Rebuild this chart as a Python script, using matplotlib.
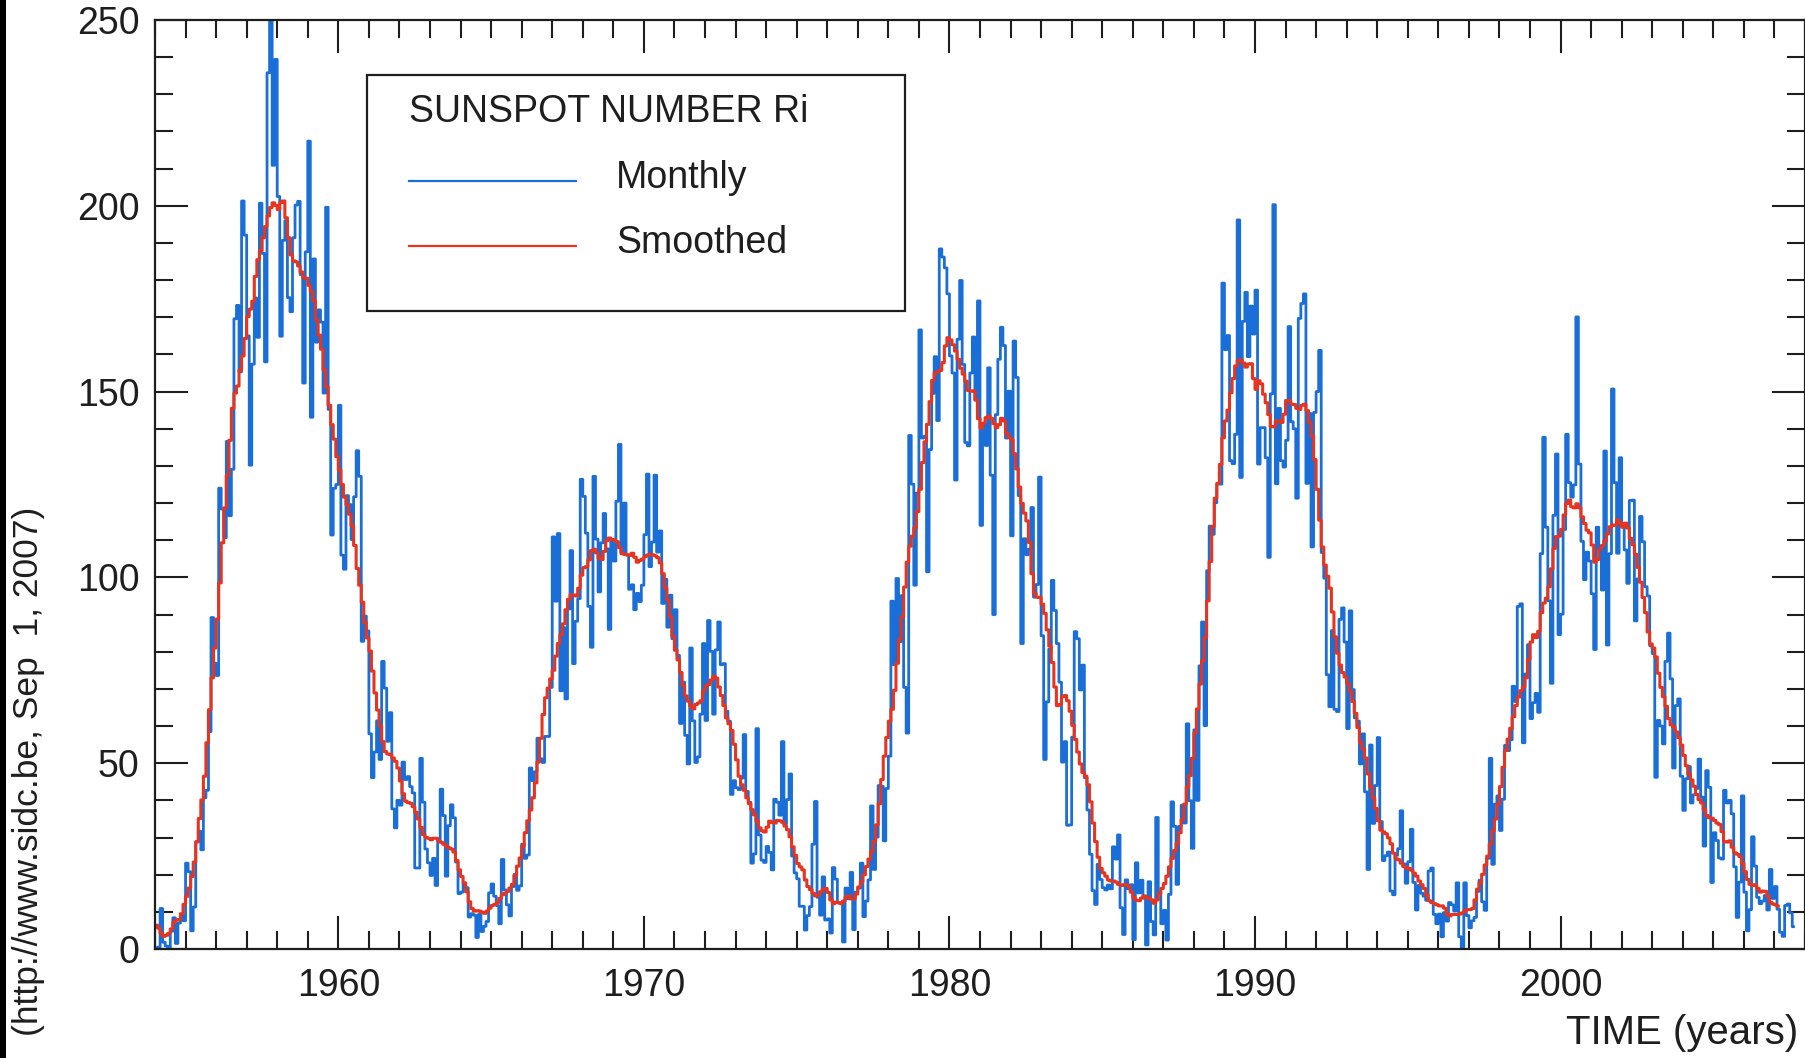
import matplotlib
matplotlib.use("Agg")
import matplotlib.pyplot as plt
from matplotlib.patches import Rectangle
from matplotlib.ticker import MultipleLocator
import numpy as np

# monthly mean sunspot number Ri, Jan 1954 .. Aug 2007 (one row per year)
start_year = 1954
monthly = [
    0.2, 0.5, 10.9, 1.8, 0.8, 0.2, 4.8, 8.4, 1.5, 7.0, 9.2, 7.6,
    23.1, 20.8, 4.9, 11.3, 28.9, 31.7, 26.7, 40.7, 42.7, 58.5, 89.2, 76.9,
    73.6, 124.0, 118.4, 110.7, 136.6, 116.6, 129.1, 169.6, 173.2, 155.3, 201.3, 192.1,
    165.0, 130.2, 157.4, 175.2, 164.6, 200.7, 187.2, 158.0, 235.8, 253.8, 210.9, 239.4,
    202.5, 164.9, 190.7, 196.0, 175.3, 171.5, 191.4, 200.2, 201.2, 181.5, 152.3, 187.6,
    217.4, 143.1, 185.7, 163.3, 172.0, 168.7, 149.6, 199.6, 145.2, 111.4, 124.0, 125.0,
    146.3, 106.0, 102.2, 122.0, 119.6, 110.2, 121.7, 134.1, 127.2, 82.8, 89.6, 85.6,
    57.9, 46.1, 53.0, 61.4, 51.0, 77.4, 70.2, 55.9, 63.6, 37.7, 32.6, 40.0,
    38.7, 50.3, 45.6, 46.4, 43.7, 42.0, 21.8, 21.8, 51.3, 39.5, 26.9, 23.2,
    19.8, 24.4, 17.1, 29.3, 43.0, 35.9, 19.6, 33.2, 38.8, 35.3, 23.4, 14.9,
    15.3, 17.7, 16.5, 8.6, 9.5, 9.1, 3.1, 9.3, 4.7, 6.1, 7.4, 15.1,
    17.5, 14.2, 11.7, 6.8, 24.1, 15.9, 11.9, 8.9, 16.8, 20.1, 15.8, 17.0,
    28.2, 24.4, 25.3, 48.7, 45.3, 47.7, 56.7, 51.2, 50.2, 57.2, 57.2, 70.4,
    110.9, 93.6, 111.8, 69.5, 86.5, 67.3, 91.5, 107.2, 76.8, 88.2, 94.3, 126.4,
    121.8, 111.9, 92.2, 81.2, 127.2, 110.3, 96.1, 109.3, 117.2, 107.7, 86.0, 109.8,
    104.4, 120.5, 135.8, 106.8, 120.0, 106.0, 96.8, 98.0, 91.3, 95.7, 93.5, 97.9,
    111.5, 127.8, 102.9, 109.5, 127.5, 106.8, 112.5, 93.0, 99.5, 86.6, 95.2, 83.5,
    91.3, 79.0, 60.7, 71.8, 57.5, 49.8, 81.0, 61.4, 50.2, 51.7, 63.2, 82.2,
    61.5, 88.4, 80.1, 63.2, 80.5, 88.0, 76.5, 76.8, 64.0, 61.3, 41.6, 45.3,
    43.4, 42.9, 46.0, 57.7, 42.4, 39.5, 23.1, 25.6, 59.3, 30.7, 23.9, 23.3,
    27.6, 26.0, 21.3, 40.3, 39.5, 36.0, 55.8, 33.6, 40.2, 47.1, 25.0, 20.5,
    18.9, 11.5, 11.5, 5.1, 9.0, 11.4, 28.2, 39.7, 13.9, 9.1, 19.4, 7.8,
    8.1, 4.3, 21.9, 18.8, 12.4, 12.2, 1.9, 16.4, 13.5, 20.6, 5.2, 15.3,
    16.4, 23.1, 8.7, 12.9, 18.6, 38.5, 21.4, 30.1, 44.0, 43.8, 29.1, 43.2,
    51.9, 93.6, 76.5, 99.7, 82.7, 95.1, 70.4, 58.1, 138.2, 125.1, 97.9, 122.7,
    166.6, 137.5, 138.0, 101.5, 134.4, 149.5, 159.4, 142.2, 188.4, 186.2, 183.3, 176.3,
    159.6, 155.0, 126.2, 164.1, 179.9, 157.3, 136.3, 135.4, 155.0, 164.7, 147.9, 174.4,
    114.0, 141.3, 135.5, 156.4, 127.5, 90.0, 143.8, 158.7, 167.3, 162.4, 137.5, 150.1,
    111.2, 163.6, 153.8, 122.0, 82.2, 110.4, 106.1, 107.6, 118.8, 94.7, 98.1, 127.0,
    84.3, 51.0, 66.5, 80.7, 99.2, 91.1, 82.2, 71.8, 50.3, 55.8, 33.3, 33.4,
    57.0, 85.4, 83.5, 69.7, 76.4, 46.1, 37.4, 25.5, 15.7, 12.0, 22.8, 18.7,
    16.5, 15.9, 17.2, 16.2, 27.5, 24.2, 30.7, 11.1, 3.9, 18.6, 16.2, 17.3,
    2.5, 23.2, 15.1, 18.5, 13.7, 1.1, 18.1, 7.4, 3.8, 35.4, 15.2, 6.8,
    10.4, 2.4, 14.7, 39.6, 33.0, 17.4, 33.0, 38.7, 33.9, 60.6, 39.9, 27.1,
    59.0, 40.0, 76.2, 88.0, 60.1, 101.8, 113.8, 111.6, 120.1, 125.1, 125.1, 179.2,
    161.3, 165.1, 131.4, 130.6, 138.5, 196.2, 126.9, 168.9, 176.7, 159.4, 173.0, 165.5,
    177.3, 130.5, 140.3, 140.3, 132.2, 105.4, 149.4, 200.3, 125.2, 145.5, 131.4, 129.7,
    136.9, 167.5, 141.9, 140.0, 121.3, 169.7, 173.7, 176.3, 125.3, 144.1, 108.2, 144.4,
    150.0, 161.1, 106.7, 99.8, 73.8, 65.2, 85.7, 64.5, 63.9, 88.7, 91.8, 82.6,
    59.3, 91.0, 69.8, 62.2, 61.3, 49.8, 57.9, 42.3, 21.4, 54.9, 33.8, 44.0,
    56.9, 34.3, 23.8, 25.1, 26.1, 15.6, 14.6, 25.2, 27.0, 37.2, 22.9, 17.7,
    23.5, 32.2, 17.9, 10.5, 17.1, 15.0, 14.2, 13.1, 21.0, 21.8, 9.3, 6.8,
    9.4, 3.3, 9.8, 7.5, 12.5, 11.9, 10.2, 17.8, 3.3, 0.4, 17.8, 9.0,
    5.7, 7.6, 8.5, 15.5, 18.5, 12.7, 10.4, 24.4, 51.3, 22.8, 39.0, 41.2,
    31.9, 40.3, 54.8, 53.4, 56.3, 70.7, 66.6, 92.2, 92.9, 55.5, 74.0, 81.9,
    62.0, 66.3, 68.8, 63.7, 106.4, 137.7, 113.5, 93.7, 71.5, 116.7, 133.2, 84.6,
    90.1, 112.9, 138.5, 125.5, 121.6, 124.9, 170.1, 130.5, 109.7, 99.4, 106.8, 104.4,
    95.6, 80.6, 113.5, 107.7, 96.6, 134.0, 81.8, 106.4, 150.7, 125.5, 106.5, 132.2,
    114.1, 107.4, 98.4, 120.7, 120.8, 88.3, 99.6, 116.4, 109.6, 97.5, 95.0, 81.6,
    79.5, 46.2, 61.5, 60.0, 55.2, 77.4, 85.0, 72.7, 48.7, 65.5, 67.3, 46.5,
    37.3, 45.8, 49.1, 39.3, 41.5, 43.2, 51.1, 40.9, 27.7, 48.0, 43.5, 17.9,
    31.3, 29.2, 24.5, 24.2, 42.7, 39.3, 40.0, 36.4, 22.1, 8.5, 18.0, 41.2,
    15.3, 4.9, 10.6, 30.2, 22.3, 13.9, 12.2, 12.9, 14.4, 10.5, 21.4, 13.6,
    16.8, 10.7, 4.5, 3.4, 11.7, 12.1, 9.7, 6.0,
]

# 13-month smoothed sunspot number, Jan 1954 .. Feb 2007
smoothed = [
    6.4, 5.6, 4.2, 3.4, 3.7, 4.2, 5.4, 7.2, 7.8, 7.9, 9.5, 12.0,
    14.2, 16.4, 19.5, 23.4, 28.8, 35.1, 40.1, 46.5, 55.5, 64.4, 73.0, 81.0,
    88.8, 98.5, 109.3, 118.7, 127.4, 136.9, 145.5, 149.6, 151.5, 155.8, 159.6, 164.3,
    170.2, 172.2, 174.3, 181.0, 185.5, 187.9, 191.4, 194.4, 197.3, 199.5, 200.8, 200.1,
    199.0, 200.9, 201.3, 196.8, 191.4, 186.8, 185.2, 184.9, 183.8, 182.2, 180.7, 180.5,
    178.6, 176.9, 174.5, 169.3, 165.2, 161.4, 155.8, 151.3, 146.3, 141.1, 137.2, 132.5,
    128.9, 125.0, 121.6, 119.6, 117.0, 113.9, 108.6, 102.4, 97.9, 93.3, 87.9, 83.7,
    80.2, 74.8, 68.9, 64.3, 60.1, 55.8, 53.1, 52.5, 52.3, 51.4, 50.5, 48.7,
    45.2, 41.8, 39.8, 39.4, 39.2, 38.3, 36.8, 35.0, 32.7, 30.8, 30.0, 29.8,
    29.4, 29.8, 29.8, 29.1, 28.7, 28.2, 27.7, 27.2, 26.9, 26.1, 23.8, 21.3,
    19.5, 17.8, 15.4, 12.7, 10.9, 10.2, 10.3, 10.2, 9.9, 9.6, 10.2, 11.0,
    11.7, 12.0, 12.5, 13.6, 14.6, 15.0, 15.5, 16.4, 17.4, 19.7, 22.3, 24.5,
    27.7, 31.3, 34.5, 37.4, 40.7, 44.7, 50.3, 56.7, 63.1, 67.6, 70.2, 72.7,
    75.0, 78.8, 82.2, 84.6, 87.5, 91.3, 94.1, 95.3, 95.3, 95.0, 97.1, 100.6,
    102.6, 102.9, 104.7, 107.2, 107.6, 106.6, 105.2, 104.8, 107.0, 109.9, 110.6, 110.2,
    110.0, 109.6, 108.0, 106.4, 106.2, 106.1, 105.9, 106.5, 105.4, 104.1, 104.6, 104.9,
    105.6, 106.0, 106.2, 106.1, 105.8, 105.3, 103.9, 101.0, 97.2, 93.9, 89.4, 84.1,
    80.4, 77.8, 74.4, 70.9, 68.1, 66.7, 65.4, 64.6, 65.8, 66.2, 66.8, 69.4,
    70.8, 71.2, 72.4, 73.4, 72.9, 70.5, 68.2, 65.5, 62.2, 60.6, 58.8, 55.1,
    50.9, 46.5, 44.2, 42.7, 40.7, 39.1, 37.5, 36.1, 34.4, 32.6, 31.8, 31.5,
    32.8, 34.4, 34.0, 33.9, 34.6, 34.5, 34.1, 33.1, 32.1, 30.2, 27.5, 25.2,
    23.0, 22.1, 21.3, 18.6, 16.8, 16.0, 15.0, 14.3, 14.4, 15.4, 16.1, 16.3,
    15.2, 13.2, 12.2, 12.6, 12.5, 12.2, 12.9, 14.0, 14.3, 13.5, 13.5, 14.8,
    16.7, 18.1, 20.0, 22.2, 24.2, 26.3, 29.0, 33.4, 39.1, 45.6, 51.9, 56.9,
    61.3, 64.5, 69.6, 76.9, 83.2, 89.4, 97.4, 104.1, 108.4, 111.1, 113.3, 117.7,
    123.7, 130.9, 136.5, 141.2, 147.3, 153.0, 155.0, 155.4, 155.7, 157.8, 162.3, 164.5,
    163.9, 162.6, 160.9, 158.7, 156.3, 154.7, 152.8, 150.3, 150.1, 150.2, 147.7, 142.7,
    140.2, 141.5, 143.0, 143.4, 142.8, 141.4, 140.3, 141.1, 142.8, 142.1, 138.8, 137.7,
    137.0, 133.3, 129.2, 124.3, 119.9, 117.3, 115.2, 109.4, 101.0, 95.7, 94.7, 94.6,
    92.8, 90.3, 85.9, 81.5, 77.1, 70.5, 65.5, 65.8, 67.9, 68.2, 66.8, 64.0,
    60.2, 56.4, 53.0, 49.8, 47.5, 46.5, 44.2, 39.6, 33.9, 28.9, 24.7, 21.7,
    20.5, 19.6, 18.6, 18.3, 18.3, 18.0, 17.4, 17.1, 17.3, 17.3, 16.8, 15.3,
    13.8, 13.1, 13.0, 13.7, 14.3, 13.8, 13.7, 13.2, 12.3, 13.2, 14.9, 16.3,
    17.6, 19.6, 22.1, 24.4, 26.5, 28.4, 31.3, 34.8, 39.0, 43.6, 46.7, 51.3,
    58.2, 64.6, 71.3, 77.5, 83.8, 93.7, 104.3, 113.7, 121.3, 125.3, 130.4, 137.6,
    142.1, 145.0, 149.7, 153.5, 156.9, 158.4, 158.5, 157.7, 156.6, 157.4, 157.5, 153.5,
    150.6, 152.9, 152.1, 149.3, 147.0, 143.8, 140.6, 140.5, 142.1, 142.1, 141.7, 143.9,
    147.6, 147.6, 146.6, 146.5, 145.5, 145.2, 146.3, 146.6, 144.9, 141.7, 138.1, 131.7,
    123.7, 115.4, 108.2, 103.3, 100.3, 97.1, 90.7, 84.0, 79.6, 76.4, 74.4, 73.2,
    71.4, 69.3, 66.6, 63.4, 59.6, 55.6, 53.9, 51.4, 47.1, 43.7, 40.7, 37.8,
    34.5, 32.0, 31.5, 31.0, 29.9, 28.3, 25.8, 24.3, 24.0, 23.1, 22.2, 21.8,
    21.7, 21.2, 20.4, 19.6, 18.3, 17.3, 16.3, 14.5, 13.0, 12.5, 12.2, 11.9,
    11.6, 11.6, 11.0, 9.4, 8.9, 9.3, 9.3, 9.3, 9.4, 9.7, 10.3, 10.6,
    10.6, 10.9, 13.2, 16.1, 17.9, 20.1, 22.6, 25.0, 28.3, 31.8, 35.0, 39.0,
    43.7, 48.9, 53.4, 56.5, 59.4, 62.5, 65.5, 67.8, 69.5, 70.5, 73.0, 77.9,
    82.6, 84.6, 83.8, 85.5, 90.5, 93.1, 94.4, 97.5, 102.3, 107.8, 111.0, 111.1,
    112.9, 116.8, 119.9, 120.8, 119.0, 118.7, 119.8, 118.7, 116.3, 114.5, 112.7, 112.0,
    108.7, 104.1, 104.8, 107.6, 108.6, 109.8, 111.7, 113.6, 114.1, 114.0, 115.5, 114.6,
    113.5, 114.6, 113.3, 110.5, 108.8, 106.2, 102.7, 98.7, 94.6, 90.5, 85.3, 82.1,
    81.0, 78.6, 74.2, 70.4, 67.9, 65.3, 62.0, 60.3, 59.7, 58.4, 56.9, 54.9,
    52.1, 49.3, 47.1, 45.5, 43.8, 41.6, 40.2, 39.3, 37.5, 35.9, 35.3, 35.2,
    34.6, 33.9, 33.5, 31.6, 28.9, 28.8, 29.1, 27.4, 25.9, 25.5, 24.9, 23.0,
    20.8, 18.7, 17.4, 17.1, 17.3, 16.3, 15.3, 15.6, 15.5, 14.2, 12.6, 12.1,
    11.9, 11.5,
]

x_major = [1960, 1970, 1980, 1990, 2000]
y_major = [0, 50, 100, 150, 200, 250]
legend_title = "SUNSPOT NUMBER Ri"
series_names = ["Monthly", "Smoothed"]

BLUE = "#1a6ed8"
RED = "#e8341f"
INK = "#1e1e1e"
FS = 27

plt.rcParams['font.family'] = ['Liberation Sans', 'DejaVu Sans']

W, H = 1805, 1058
fig = plt.figure(figsize=(W / 100, H / 100), dpi=100)
# plot box in pixel corners of the original: left 155, top 20, bottom 949, right edge
ax = fig.add_axes([155 / W, 1 - 949 / H, (W - 155) / W, (949 - 20) / H])

# mid-month time stamps
t_monthly = start_year + (np.arange(len(monthly)) + 0.5) / 12
t_smooth = start_year + (np.arange(len(smoothed)) + 0.5) / 12

ax.plot(t_monthly, monthly, drawstyle='steps-mid', color=BLUE, lw=2.0)
ax.plot(t_smooth, smoothed, drawstyle='steps-mid', color=RED, lw=2.2)

ax.set_xlim(1954, 2008)
ax.set_ylim(0, 250)
ax.set_xticks(x_major)
ax.set_yticks(y_major)
ax.xaxis.set_minor_locator(MultipleLocator(1))
ax.yaxis.set_minor_locator(MultipleLocator(10))
ax.tick_params(which='both', direction='in', top=True, right=True,
               width=1.5, color=INK)
ax.tick_params(which='major', length=24)
ax.tick_params(which='minor', length=13)
ax.tick_params(axis='x', pad=14, labelsize=FS, labelcolor=INK)
ax.tick_params(axis='y', pad=11, labelsize=FS, labelcolor=INK)
for s in ax.spines.values():
    s.set_linewidth(1.6)
    s.set_color(INK)


def fx(px):
    # original pixel column -> axes fraction
    return (px - 155) / 1650


def fy(py):
    # original pixel row -> axes fraction
    return (949 - py) / 929


# legend box drawn by hand, IDL style
ax.add_patch(Rectangle((fx(367), fy(311)), fx(905) - fx(367), fy(75) - fy(311),
                       transform=ax.transAxes, facecolor='white',
                       edgecolor=INK, lw=1.6, zorder=5))
ax.text(fx(409), fy(112), legend_title, transform=ax.transAxes,
        fontsize=FS, va='center', ha='left', color=INK, zorder=6)
for name, col, row in zip(series_names, [BLUE, RED], [181, 246]):
    ax.plot([fx(409), fx(576)], [fy(row), fy(row)], transform=ax.transAxes,
            color=col, lw=1.6, zorder=6, clip_on=False)
    ax.text(fx(616), fy(row - 3), name, transform=ax.transAxes,
            fontsize=FS, va='center', ha='left', color=INK, zorder=6)

fig.text(1798 / W, 1 - 1033 / H, "TIME (years)", ha='right', va='center',
         fontsize=29, color=INK)
fig.text(29 / W, 1 - 771 / H, "(http://www.sidc.be, Sep  1, 2007)",
         rotation=90, ha='center', va='center', fontsize=25.5, color=INK)

# dark strip at the left edge of the original image
fig.patches.append(Rectangle((0, 0), 6 / W, 1, transform=fig.transFigure,
                             facecolor='black', edgecolor='none'))

fig.savefig("out.png", dpi=100)
